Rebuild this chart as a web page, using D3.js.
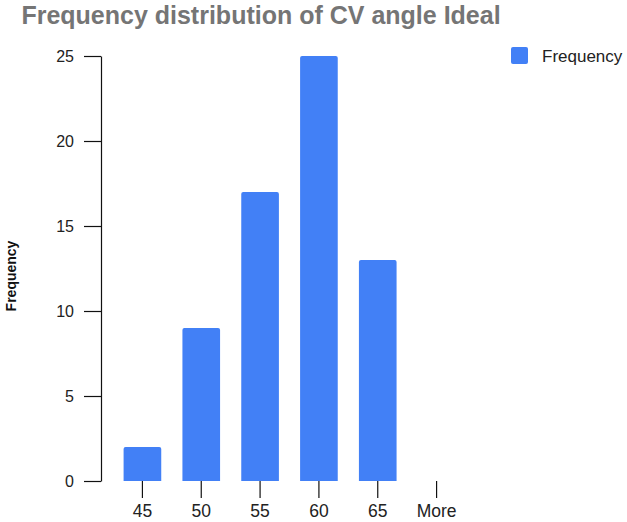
<!DOCTYPE html>
<html>
<head>
<meta charset="utf-8">
<script src="https://cdn.jsdelivr.net/npm/d3@7"></script>
<style>
  html, body { margin: 0; padding: 0; background: #fff; }
  svg { display: block; font-family: "Liberation Sans", Arial, Helvetica, sans-serif; }
</style>
</head>
<body>
<svg id="chart" width="627" height="522"></svg>
<script>
const categories = ["45", "50", "55", "60", "65", "More"];
const frequency = [2, 9, 17, 25, 13, 0];
const yTicks = [0, 5, 10, 15, 20, 25];
const title = "Frequency distribution of CV angle Ideal";
const seriesName = "Frequency";
const yTitle = "Frequency";

const svg = d3.select("#chart");
const barColor = "#4280f6";

const x = d3.scaleBand().domain(categories).range([113, 466]).paddingInner(0.36).paddingOuter(0.18);
const y = d3.scaleLinear().domain([0, 25]).range([481, 56]);

// Title
svg.append("text")
  .attr("x", 261).attr("y", 24)
  .attr("text-anchor", "middle")
  .attr("font-size", 25).attr("font-weight", "bold")
  .attr("fill", "#757575")
  .text(title);

// Y axis
const yAxis = svg.append("g")
  .attr("transform", "translate(101,0)")
  .call(d3.axisLeft(y).tickValues(yTicks).tickSize(17).tickPadding(10).tickSizeOuter(0));
yAxis.select(".domain").attr("stroke", "#111").attr("stroke-width", 1.2);
yAxis.selectAll(".tick line").attr("stroke", "#111").attr("stroke-width", 1.2);
yAxis.selectAll(".tick text").attr("font-size", 16).attr("fill", "#222")
  .attr("font-family", "'Liberation Sans', Arial, sans-serif");

// X axis (ticks only)
const xAxis = svg.append("g")
  .attr("transform", "translate(0,481)")
  .call(d3.axisBottom(x).tickSize(17).tickPadding(7).tickSizeOuter(0));
xAxis.select(".domain").remove();
xAxis.selectAll(".tick line").attr("stroke", "#111").attr("stroke-width", 1.2);
xAxis.selectAll(".tick text").attr("font-size", 17.5).attr("fill", "#222")
  .attr("font-family", "'Liberation Sans', Arial, sans-serif");

// Bars
svg.append("g").selectAll("path")
  .data(categories.map((c, i) => ({c, v: frequency[i]})).filter(d => d.v > 0))
  .join("path")
  .attr("fill", barColor)
  .attr("d", d => {
    const x0 = x(d.c), w = x.bandwidth(), y0 = y(d.v), yb = y(0), r = 2;
    return `M${x0},${yb}V${y0 + r}Q${x0},${y0} ${x0 + r},${y0}H${x0 + w - r}Q${x0 + w},${y0} ${x0 + w},${y0 + r}V${yb}Z`;
  });

// Y title
svg.append("text")
  .attr("transform", "translate(16,276) rotate(-90)")
  .attr("text-anchor", "middle")
  .attr("font-size", 14).attr("font-weight", "bold")
  .attr("fill", "#111")
  .text(yTitle);

// Legend
const lg = svg.append("g").attr("transform", "translate(511,47)");
lg.append("rect").attr("width", 17).attr("height", 17).attr("rx", 2).attr("fill", barColor);
lg.append("text").attr("x", 31).attr("y", 14.5).attr("font-size", 17).attr("fill", "#222").text(seriesName);
</script>
</body>
</html>
